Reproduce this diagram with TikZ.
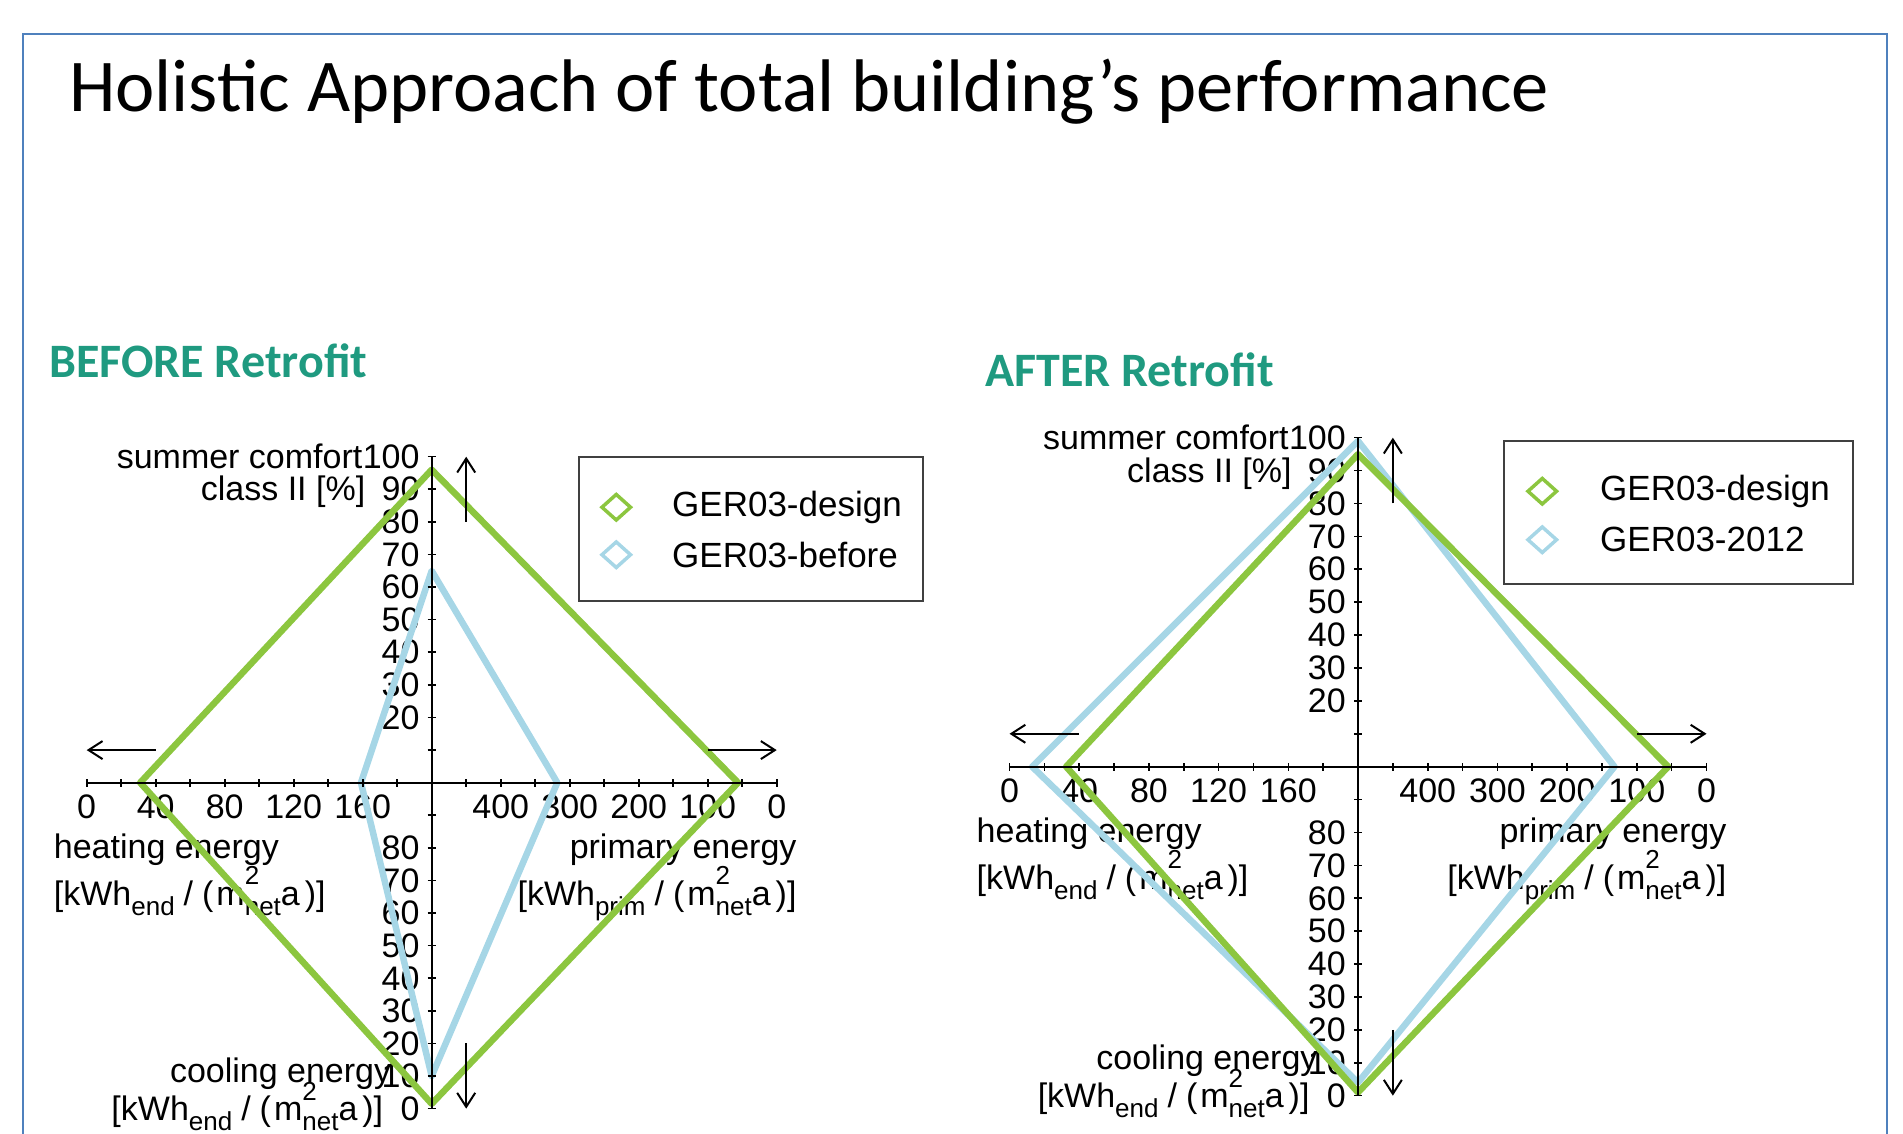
\documentclass[tikz,border=0pt]{standalone}
\usepackage{fontspec}
\setmainfont{Liberation Sans}
\newfontfamily\slidefont{Carlito}
\usepackage{tikz}
\usetikzlibrary{arrows.meta,positioning,shapes.geometric}

\definecolor{framecol}{RGB}{79,129,189}
\definecolor{headcol}{RGB}{31,154,128}
\definecolor{designcol}{RGB}{140,198,63}
\definecolor{realcol}{RGB}{166,214,230}

\tikzstyle{chartaxis} = [line width=2pt, black]
\tikzstyle{chartick} = [line width=1.6pt, black]
\tikzstyle{dirarrow} = [line width=2pt, -{Straight Barb[length=14pt,width=18pt]}]
\tikzstyle{curveline} = [line width=6.5pt, line join=round]
\tikzstyle{num} = [inner sep=0pt, font=\fontsize{34}{36}\selectfont]
\tikzstyle{xnum} = [num, anchor=north, yshift=-12pt]
\tikzstyle{ynum} = [num, anchor=east, xshift=-12pt]
\tikzstyle{lbl} = [inner sep=0pt, font=\fontsize{34}{43}\selectfont]
\tikzstyle{legbox} = [draw=black!75, line width=1.5pt]
\tikzstyle{legmark} = [diamond, draw, line width=3.5pt, inner sep=0pt,
                       minimum width=30pt, minimum height=27pt]
\tikzstyle{legtext} = [inner sep=0pt, font=\fontsize{35}{38}\selectfont]
\tikzstyle{heading} = [inner sep=0pt, anchor=base west, text=headcol,
                       font=\slidefont\bfseries\fontsize{48}{52}\selectfont]
\tikzstyle{slidetitle} = [inner sep=0pt, anchor=base west,
                          font=\slidefont\fontsize{74.5}{80}\selectfont]

\newcommand{\lowpart}[1]{\raisebox{-0.3em}{\fontsize{26}{26}\selectfont #1}}
\newcommand{\highpart}[1]{\raisebox{0.6em}{\fontsize{26}{26}\selectfont #1}}
\newcommand{\unitlabel}[1]{[kWh\lowpart{#1}\hspace{9pt}/\hspace{9pt}(\hspace{3pt}m\rlap{\highpart{2}}\lowpart{net}a\hspace{5pt})]}

% numbers and names of one chart (chart units: -1..1 on both axes)
\newcommand{\chartlabels}[1]{
  \foreach \h in {0,40,...,160}
    \node[xnum] (#1h\h) at ({-1+\h/200},0) {\h};
  \foreach \p in {0,100,...,400}
    \node[xnum] (#1p\p) at ({1-\p/500},0) {\p};
  \foreach \c in {20,30,...,100}
    \node[ynum] (#1c\c) at (0,\c/100) {\c};
  \foreach \k in {0,10,...,80}
    \node[ynum] (#1k\k) at (0,{-1+\k/100}) {\k};
  \node[lbl, base left=0pt of #1c100] (#1sc) {summer comfort};
  \node[lbl, base left=16pt of #1c90] (#1cl) {class II [\%]};
  \node[lbl, align=left, anchor=north west] (#1he)
    at ([xshift=-33pt,yshift=-51pt]-1,0) {heating energy\\\unitlabel{end}};
  \node[lbl, align=right, anchor=north east] (#1pe)
    at ([xshift=20pt,yshift=-51pt]1,0) {primary energy\\\unitlabel{prim}};
  \node[lbl, base left=17pt of #1k0] (#1cu) {\unitlabel{end}};
  \node[lbl, anchor=base east, xshift=8pt, yshift=38pt] (#1ce)
    at (#1cu.base east) {cooling energy};
}

\newcommand{\chartaxes}{
  \draw[chartaxis] (-1,0) -- (1,0);
  \draw[chartaxis] (0,-1) -- (0,1);
  \foreach \i in {-10,...,10} {
    \draw[chartick] (\i/10,0) ++(0,-4pt) -- ++(0,8pt);
    \draw[chartick] (0,\i/10) ++(-4pt,0) -- ++(8pt,0);
  }
  \draw[dirarrow] (0.1,0.8) -- (0.1,1);
  \draw[dirarrow] (0.1,-0.8) -- (0.1,-1);
  \draw[dirarrow] (-0.8,0.1) -- (-1,0.1);
  \draw[dirarrow] (0.8,0.1) -- (1,0.1);
}

% comfort, primary, cooling, heating
\newcommand{\radar}[5]{
  \draw[curveline, #1] (0,#2/100) -- ({1-#3/500},0) -- (0,{-1+#4/100})
    -- ({-1+#5/200},0) -- cycle;
}

\begin{document}
\begin{tikzpicture}[x=1pt, y=1pt]
  \useasboundingbox (0,0) rectangle (1903,1134);
  \draw[framecol, line width=2.5pt] (23,0) |- (1887,1100) -- (1887,0);

  \node[slidetitle] (title) at (69,1022) {Holistic Approach of total building’s performance};
  \node[heading] (before) at (49,756) {BEFORE Retrofit};
  \node[heading] (after) at (985,747) {AFTER Retrofit};

  % before retrofit
  \begin{scope}[shift={(431.7pt,351.3pt)}, x=345pt, y=326pt]
    \chartlabels{L}
    \radar{realcol}{65}{318}{10}{159}
    \radar{designcol}{96}{56}{1.5}{31}
    \chartaxes
  \end{scope}

  % after retrofit
  \begin{scope}[shift={(1358pt,367.3pt)}, x=348.5pt, y=329pt]
    \chartlabels{R}
    \radar{realcol}{99}{132}{4}{13}
    \radar{designcol}{95}{55}{1}{32.5}
    \chartaxes
  \end{scope}

  \node[legbox, minimum width=344pt, minimum height=144pt] (legL) at (751,605) {};
  \node[legmark, draw=designcol] (legL1) at ([xshift=38pt,yshift=-51pt]legL.north west) {};
  \node[legmark, draw=realcol, below=17pt of legL1] (legL2) {};
  \node[legtext, right=39pt of legL1] (legL1t) {GER03-design};
  \node[legtext, right=39pt of legL2] (legL2t) {GER03-before};

  \node[legbox, minimum width=349pt, minimum height=143pt] (legR) at (1678.5,621.5) {};
  \node[legmark, draw=designcol] (legR1) at ([xshift=39pt,yshift=-51pt]legR.north west) {};
  \node[legmark, draw=realcol, below=18pt of legR1] (legR2) {};
  \node[legtext, right=41pt of legR1] (legR1t) {GER03-design};
  \node[legtext, right=41pt of legR2] (legR2t) {GER03-2012};
\end{tikzpicture}
\end{document}
